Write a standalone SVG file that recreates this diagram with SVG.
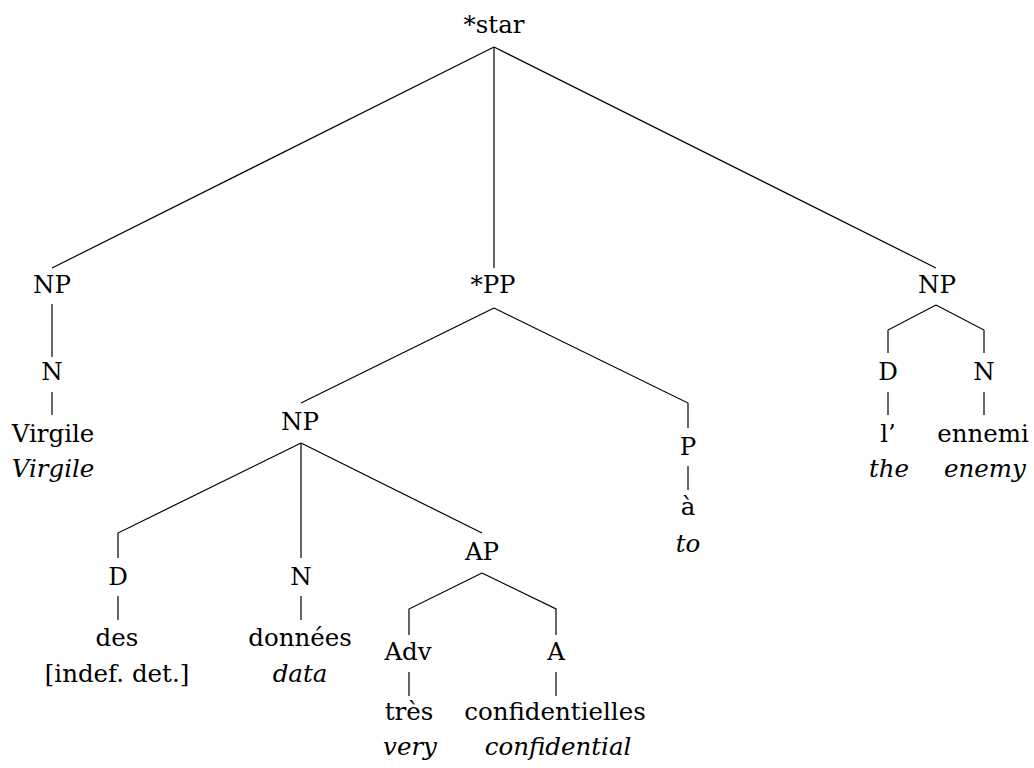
<svg xmlns="http://www.w3.org/2000/svg" width="1034" height="768" viewBox="0 0 1034 768">
<style>
text{font-family:"DejaVu Serif",serif;font-size:24.5px;fill:#000;text-anchor:middle}
.it{font-style:italic}
#edges line,#edges polyline{stroke:#000;stroke-width:1.2;fill:none}
</style>
<rect width="1034" height="768" fill="#fff"/>
<g id="edges">
<line x1="494" y1="47" x2="52" y2="268"/>
<line x1="494" y1="47" x2="494" y2="268"/>
<line x1="494" y1="47" x2="936" y2="268"/>
<line x1="52" y1="304" x2="52" y2="357"/>
<line x1="52" y1="392" x2="52" y2="415"/>
<line x1="494" y1="308" x2="301" y2="403"/>
<polyline points="494,308 688,403 688,428"/>
<line x1="688" y1="466" x2="688" y2="490"/>
<polyline points="301,443 118,533 118,558"/>
<line x1="301" y1="443" x2="301" y2="558"/>
<line x1="301" y1="443" x2="482" y2="533"/>
<line x1="118" y1="596" x2="118" y2="620"/>
<line x1="301" y1="596" x2="301" y2="620"/>
<polyline points="482,573 409,609 409,635"/>
<polyline points="482,573 556,609 556,635"/>
<line x1="409" y1="672" x2="409" y2="696"/>
<line x1="556" y1="672" x2="556" y2="696"/>
<polyline points="936,305 888,330 888,353"/>
<polyline points="936,305 984,330 984,353"/>
<line x1="888" y1="392" x2="888" y2="415"/>
<line x1="984" y1="392" x2="984" y2="415"/>
</g>
<g id="star"><text x="494" y="33">*star</text></g>
<g id="np1"><text x="52" y="293">NP</text></g>
<g id="n1"><text x="52" y="380">N</text></g>
<g id="virgile"><text x="53" y="442">Virgile</text><text class="it" x="53" y="477">Virgile</text></g>
<g id="pp"><text x="493" y="293">*PP</text></g>
<g id="np2"><text x="300" y="430">NP</text></g>
<g id="p"><text x="688" y="455">P</text></g>
<g id="a_to"><text x="688" y="515">à</text><text class="it" x="688" y="552">to</text></g>
<g id="d2"><text x="118" y="585">D</text></g>
<g id="n2"><text x="301" y="585">N</text></g>
<g id="ap"><text x="482" y="560">AP</text></g>
<g id="des"><text x="117" y="646">des</text><text x="117" y="682">[indef. det.]</text></g>
<g id="donnees"><text x="300" y="646">données</text><text class="it" x="300" y="682">data</text></g>
<g id="adv"><text x="408" y="660">Adv</text></g>
<g id="a"><text x="556" y="660">A</text></g>
<g id="tres"><text x="409" y="720">très</text><text class="it" x="410" y="755">very</text></g>
<g id="conf"><text x="555" y="720">confidentielles</text><text class="it" x="558" y="755">confidential</text></g>
<g id="np3"><text x="937" y="293">NP</text></g>
<g id="d3"><text x="888" y="380">D</text></g>
<g id="n3"><text x="984" y="380">N</text></g>
<g id="l"><text x="888" y="442">l’</text><text class="it" x="889" y="477">the</text></g>
<g id="ennemi"><text x="983" y="442">ennemi</text><text class="it" x="985" y="477">enemy</text></g>
</svg>
